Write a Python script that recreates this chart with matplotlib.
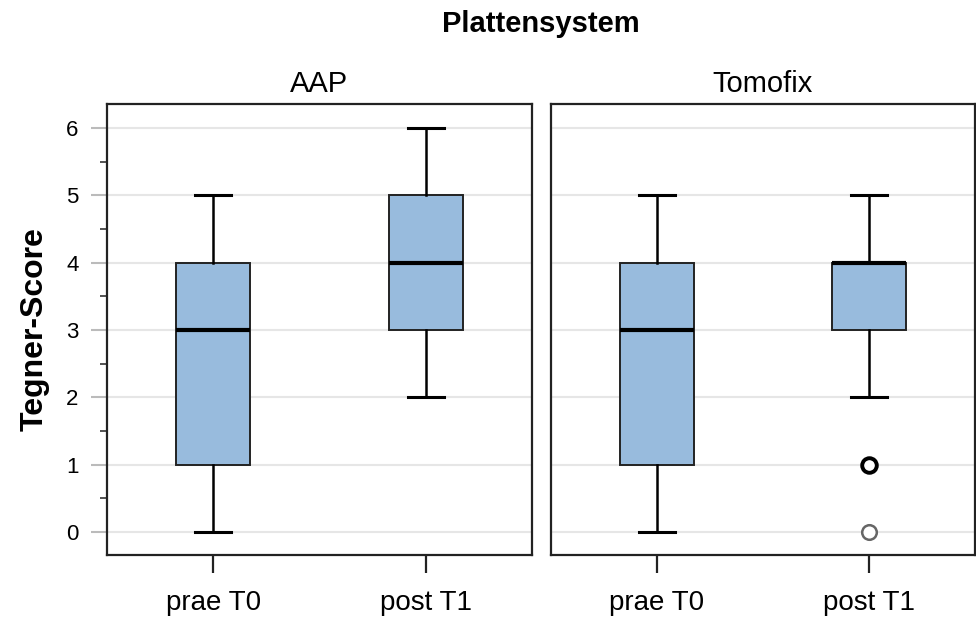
import matplotlib.pyplot as plt
from matplotlib.ticker import MultipleLocator

plt.rcParams['font.family'] = ['Liberation Sans', 'DejaVu Sans']

# Data (Tegner-Score)
panels = ['AAP', 'Tomofix']
groups = ['prae T0', 'post T1']
whis_lo = [[0, 2], [0, 2]]
q1 = [[1, 3], [1, 3]]
med = [[3, 4], [3, 4]]
q3 = [[4, 5], [4, 4]]
whis_hi = [[5, 6], [5, 5]]
fliers = [[[], []], [[], [1, 0]]]

box_color = '#98bbdd'

fig = plt.figure(figsize=(9.76, 6.19), dpi=100)
W, H = 976, 619
ax_l = fig.add_axes([107 / W, 1 - 555 / H, 425 / W, 451 / H])
ax_r = fig.add_axes([551 / W, 1 - 555 / H, 424 / W, 451 / H])

for p, ax in enumerate([ax_l, ax_r]):
    stats = []
    for g in range(len(groups)):
        stats.append(dict(whislo=whis_lo[p][g], q1=q1[p][g], med=med[p][g],
                          q3=q3[p][g], whishi=whis_hi[p][g], fliers=[]))
    ax.bxp(stats, positions=range(len(groups)), widths=0.35, patch_artist=True,
           showfliers=False,
           boxprops=dict(facecolor=box_color, edgecolor='#222222', linewidth=1.4),
           medianprops=dict(color='black', linewidth=3),
           whiskerprops=dict(color='black', linewidth=1.8),
           capprops=dict(color='black', linewidth=2.2), capwidths=0.17)
    for g in range(len(groups)):
        for k, v in enumerate(fliers[p][g]):
            # first outlier drawn bolder (several overlapping cases)
            ax.plot(g, v, 'o', ms=10.5, mfc='white',
                    mec='black' if k == 0 else '#666666',
                    mew=2.8 if k == 0 else 1.8, zorder=5)

    ax.set_xlim(-0.5, 1.5)
    ax.set_ylim(-0.342, 6.356)
    ax.set_xticks(range(len(groups)))
    ax.set_xticklabels(groups, fontsize=20)
    ax.tick_params(axis='x', length=13, width=1.6, color='#222222', pad=12)
    ax.yaxis.set_major_locator(MultipleLocator(1))
    ax.grid(axis='y', color='#e6e6e6', linewidth=1.5)
    ax.set_axisbelow(True)
    for s in ax.spines.values():
        s.set_linewidth(1.6)
        s.set_color('#222222')
    ax.set_title(panels[p], fontsize=21, pad=9)

ax_l.yaxis.set_minor_locator(MultipleLocator(0.5))
ax_l.tick_params(axis='y', which='major', length=11.5, width=1.5, color='#bbbbbb',
                 labelsize=16, pad=9)
ax_l.tick_params(axis='y', which='minor', length=5, width=1.3, color='#444444')
ax_l.set_ylabel('Tegner-Score', fontsize=23, fontweight='bold', labelpad=12)

ax_r.tick_params(axis='y', which='both', left=False, labelleft=False)

fig.text(541 / W, 1 - 24 / H, 'Plattensystem', ha='center', va='center',
         fontsize=21, fontweight='bold')

fig.savefig('out.png', dpi=100)
